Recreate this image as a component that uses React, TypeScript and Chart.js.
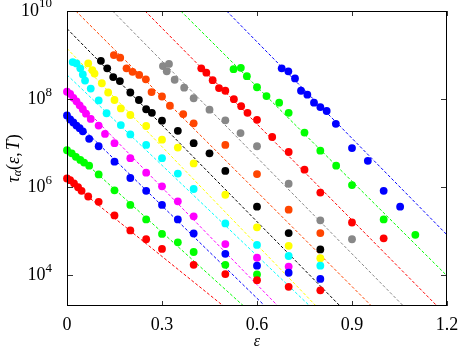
import React, { useEffect, useRef } from "react";
import { Chart, registerables } from "chart.js";

Chart.register(...registerables);

// ---- axis ranges & ticks ----
const epsMin = 0;
const epsMax = 1.2;
const logTauMin = 3.305;
const logTauMax = 10;
const xTickValues = [0, 0.3, 0.6, 0.9, 1.2];
const xTickLabels = ["0", "0.3", "0.6", "0.9", "1.2"];
const yTickExponents = [4, 6, 8, 10];

// ---- series colours ----
const seriesColors = [
  "#ff0000", "#00ff00", "#0000ff", "#ff00ff", "#00ffff", "#ffff00",
  "#000000", "#ff4500", "#888888", "#ff0000", "#00ff00", "#0000ff",
];

// ---- data: eps values and log10(tau) values per series ----
const epsRed1 = [0, 0.01, 0.022, 0.035, 0.046, 0.067, 0.1, 0.15, 0.2, 0.25, 0.3, 0.4, 0.5, 0.6, 0.7, 0.8];
const logTauRed1 = [6.2, 6.16, 6.09, 6.0, 5.92, 5.79, 5.67, 5.36, 5.02, 4.82, 4.6, 4.24, 4.03, 3.89, 3.74, 3.66];

const epsGreen1 = [0, 0.015, 0.028, 0.042, 0.054, 0.07, 0.1, 0.15, 0.2, 0.25, 0.3, 0.35, 0.4, 0.5, 0.6];
const logTauGreen1 = [6.84, 6.77, 6.69, 6.62, 6.56, 6.49, 6.29, 5.93, 5.6, 5.27, 4.94, 4.75, 4.53, 4.24, 4.02];

const epsBlue1 = [0, 0.01, 0.02, 0.03, 0.04, 0.05, 0.07, 0.1, 0.15, 0.2, 0.25, 0.3, 0.35, 0.4, 0.5, 0.6, 0.7, 0.8];
const logTauBlue1 = [7.63, 7.54, 7.47, 7.4, 7.34, 7.27, 7.1, 6.93, 6.58, 6.21, 5.92, 5.6, 5.27, 4.95, 4.49, 4.22, 4.06, 3.92];

const epsMagenta = [0, 0.01, 0.02, 0.03, 0.04, 0.05, 0.06, 0.075, 0.1, 0.12, 0.15, 0.2, 0.25, 0.3, 0.35, 0.4, 0.5, 0.6, 0.7];
const logTauMagenta = [8.17, 8.12, 8.03, 7.95, 7.86, 7.77, 7.67, 7.55, 7.4, 7.21, 7.0, 6.66, 6.33, 6.02, 5.68, 5.34, 4.71, 4.4, 4.2];

const epsCyan = [0.018, 0.03, 0.042, 0.05, 0.057, 0.075, 0.1, 0.125, 0.17, 0.2, 0.25, 0.3, 0.35, 0.4, 0.5, 0.6, 0.7, 0.8];
const logTauCyan = [8.84, 8.81, 8.7, 8.56, 8.42, 8.24, 7.97, 7.68, 7.41, 7.2, 6.96, 6.66, 6.31, 5.96, 5.18, 4.69, 4.44, 4.22];

const epsYellow = [0.067, 0.08, 0.087, 0.11, 0.13, 0.15, 0.17, 0.2, 0.25, 0.3, 0.35, 0.4, 0.5, 0.6, 0.7, 0.8];
const logTauYellow = [8.81, 8.66, 8.58, 8.36, 8.15, 7.98, 7.79, 7.64, 7.39, 7.08, 6.9, 6.54, 5.83, 5.09, 4.67, 4.39];

const epsBlack = [0.107, 0.127, 0.146, 0.167, 0.2, 0.227, 0.25, 0.268, 0.3, 0.35, 0.4, 0.45, 0.5, 0.6, 0.7, 0.8];
const logTauBlack = [8.87, 8.7, 8.5, 8.41, 8.15, 7.98, 7.77, 7.69, 7.51, 7.28, 7.0, 6.77, 6.37, 5.56, 4.96, 4.59];

const epsOrange = [0.148, 0.168, 0.188, 0.207, 0.228, 0.249, 0.267, 0.3, 0.325, 0.367, 0.4, 0.5, 0.6, 0.7, 0.8];
const logTauOrange = [9.0, 8.94, 8.7, 8.62, 8.55, 8.45, 8.16, 8.06, 7.85, 7.66, 7.45, 6.96, 6.3, 5.49, 4.96];

const epsGray = [0.303, 0.322, 0.315, 0.34, 0.37, 0.4, 0.45, 0.5, 0.548, 0.6, 0.7, 0.8, 0.9];
const logTauGray = [8.75, 8.8, 8.63, 8.44, 8.26, 8.02, 7.76, 7.52, 7.23, 6.93, 6.08, 5.25, 4.82];

const epsRed2 = [0.424, 0.44, 0.46, 0.48, 0.5, 0.527, 0.55, 0.57, 0.6, 0.648, 0.7, 0.75, 0.8, 0.9, 1.0];
const logTauRed2 = [8.7, 8.6, 8.43, 8.25, 8.19, 8.0, 7.84, 7.69, 7.53, 7.14, 6.8, 6.4, 5.88, 5.2, 4.84];

const epsGreen2 = [0.526, 0.549, 0.568, 0.6, 0.63, 0.67, 0.7, 0.75, 0.8, 0.85, 0.9, 1.0, 1.1];
const logTauGreen2 = [8.68, 8.71, 8.52, 8.27, 8.07, 7.92, 7.69, 7.24, 6.83, 6.49, 6.05, 5.27, 4.92];

const epsBlue2 = [0.678, 0.699, 0.72, 0.739, 0.759, 0.78, 0.8, 0.82, 0.849, 0.9, 0.95, 1.0, 1.052];
const logTauBlue2 = [8.7, 8.63, 8.47, 8.19, 8.1, 7.92, 7.82, 7.73, 7.44, 6.89, 6.6, 5.92, 5.56];

// ---- fitted lines: log10(tau) = intercept + slope * eps ----
const fitIntercepts = [6.17, 6.93, 7.68, 8.2, 8.55, 9.15, 9.6, 10.2, 11.05, 11.79, 12.57, 13.68];
const fitSlopes = [-5.8, -6.5, -7.0, -7.35, -6.84, -7.43, -7.3, -7.17, -7.29, -7.26, -7.15, -7.3];

const seriesEps = [epsRed1, epsGreen1, epsBlue1, epsMagenta, epsCyan, epsYellow, epsBlack, epsOrange, epsGray, epsRed2, epsGreen2, epsBlue2];
const seriesLogTau = [logTauRed1, logTauGreen1, logTauBlue1, logTauMagenta, logTauCyan, logTauYellow, logTauBlack, logTauOrange, logTauGray, logTauRed2, logTauGreen2, logTauBlue2];

const SERIF = "'Liberation Serif', 'DejaVu Serif', serif";

const framePlugin = {
  id: "gnuplotFrame",
  afterDraw(chart: any) {
    const { ctx, chartArea, scales } = chart;
    const { left, right, top, bottom } = chartArea;
    const xs = scales.x;
    const ys = scales.y;
    ctx.save();
    // ticks (inward)
    ctx.strokeStyle = "#333";
    ctx.lineWidth = 1;
    ctx.beginPath();
    xTickValues.forEach((v) => {
      const px = Math.round(xs.getPixelForValue(v)) + 0.5;
      ctx.moveTo(px, bottom);
      ctx.lineTo(px, bottom - 5);
      ctx.moveTo(px, top);
      ctx.lineTo(px, top + 5);
    });
    yTickExponents.forEach((e) => {
      const py = Math.round(ys.getPixelForValue(Math.pow(10, e))) + 0.5;
      ctx.moveTo(left, py);
      ctx.lineTo(left + 6, py);
      ctx.moveTo(right, py);
      ctx.lineTo(right - 6, py);
    });
    ctx.stroke();
    // frame
    ctx.strokeStyle = "#000";
    ctx.lineWidth = 1;
    ctx.strokeRect(Math.round(left) + 0.5, Math.round(top) + 0.5, Math.round(right - left) - 1, Math.round(bottom - top) - 1);

    // x tick labels
    ctx.fillStyle = "#000";
    ctx.font = `18px ${SERIF}`;
    ctx.textAlign = "center";
    ctx.textBaseline = "middle";
    xTickValues.forEach((v, i) => {
      ctx.fillText(xTickLabels[i], xs.getPixelForValue(v), bottom + 19);
    });

    // y tick labels 10^n
    const labelRight = 52;
    yTickExponents.forEach((e) => {
      const py = ys.getPixelForValue(Math.pow(10, e));
      ctx.font = `13px ${SERIF}`;
      const ew = ctx.measureText(String(e)).width;
      ctx.font = `18px ${SERIF}`;
      const bw = ctx.measureText("10").width;
      ctx.textAlign = "left";
      ctx.textBaseline = "middle";
      ctx.fillText("10", labelRight - ew - bw, py);
      ctx.font = `13px ${SERIF}`;
      ctx.fillText(String(e), labelRight - ew, py - 7);
    });

    // x axis title
    ctx.font = `italic 16px ${SERIF}`;
    ctx.textAlign = "center";
    ctx.textBaseline = "middle";
    ctx.fillText("ε", (left + right) / 2, bottom + 36);

    // y axis title: τ_α(ε,T)
    const parts = [
      { t: "τ", f: `italic 18px ${SERIF}`, dy: 0 },
      { t: "α", f: `italic 12px ${SERIF}`, dy: 4 },
      { t: "(", f: `18px ${SERIF}`, dy: 0 },
      { t: "ε", f: `italic 18px ${SERIF}`, dy: 0 },
      { t: ",", f: `18px ${SERIF}`, dy: 0 },
      { t: "T", f: `italic 18px ${SERIF}`, dy: 0 },
      { t: ")", f: `18px ${SERIF}`, dy: 0 },
    ];
    let total = 0;
    const widths = parts.map((p) => {
      ctx.font = p.f;
      const w = ctx.measureText(p.t).width + (p.t === "," ? 2 : 0);
      total += w;
      return w;
    });
    ctx.translate(14, (top + bottom) / 2);
    ctx.rotate(-Math.PI / 2);
    ctx.textAlign = "left";
    ctx.textBaseline = "middle";
    let cx = -total / 2;
    parts.forEach((p, i) => {
      ctx.font = p.f;
      ctx.fillText(p.t, cx, p.dy);
      cx += widths[i];
    });
    ctx.restore();
  },
};

export default function App() {
  const canvasRef = useRef<HTMLCanvasElement | null>(null);

  useEffect(() => {
    if (!canvasRef.current) return;
    const pointSets = seriesEps.map((epsArr, i) => ({
      type: "scatter" as const,
      data: epsArr.map((x, j) => ({ x, y: Math.pow(10, seriesLogTau[i][j]) })),
      backgroundColor: seriesColors[i],
      borderWidth: 0,
      pointRadius: 3.9,
      pointHoverRadius: 3.9,
      clip: false as any,
      order: 1,
    }));
    const lineSets = fitIntercepts.map((b, i) => {
      const s = fitSlopes[i];
      const x0 = Math.max(epsMin, (b - logTauMax) / -s);
      const x1 = Math.min(epsMax, (b - logTauMin) / -s);
      return {
        type: "line" as const,
        data: [
          { x: x0, y: Math.pow(10, b + s * x0) },
          { x: x1, y: Math.pow(10, b + s * x1) },
        ],
        borderColor: seriesColors[i],
        borderWidth: 1,
        borderDash: [3, 2],
        pointRadius: 0,
        fill: false,
        showLine: true,
        order: 2,
      };
    });

    const chart = new Chart(canvasRef.current, {
      type: "scatter",
      data: { datasets: [...pointSets, ...lineSets] as any },
      options: {
        animation: false,
        responsive: false,
        devicePixelRatio: 1,
        layout: { padding: { left: 67, right: 16, top: 11, bottom: 44 } },
        plugins: { legend: { display: false }, tooltip: { enabled: false } },
        events: [],
        scales: {
          x: { type: "linear", min: epsMin, max: epsMax, display: false },
          y: { type: "logarithmic", min: Math.pow(10, logTauMin), max: Math.pow(10, logTauMax), display: false },
        },
      },
      plugins: [framePlugin],
    });
    return () => chart.destroy();
  }, []);

  return (
    <div style={{ position: "fixed", left: 0, top: 0, width: 463, height: 350, background: "#fff" }}>
      <canvas ref={canvasRef} width={463} height={350} style={{ width: 463, height: 350, display: "block" }} />
    </div>
  );
}
